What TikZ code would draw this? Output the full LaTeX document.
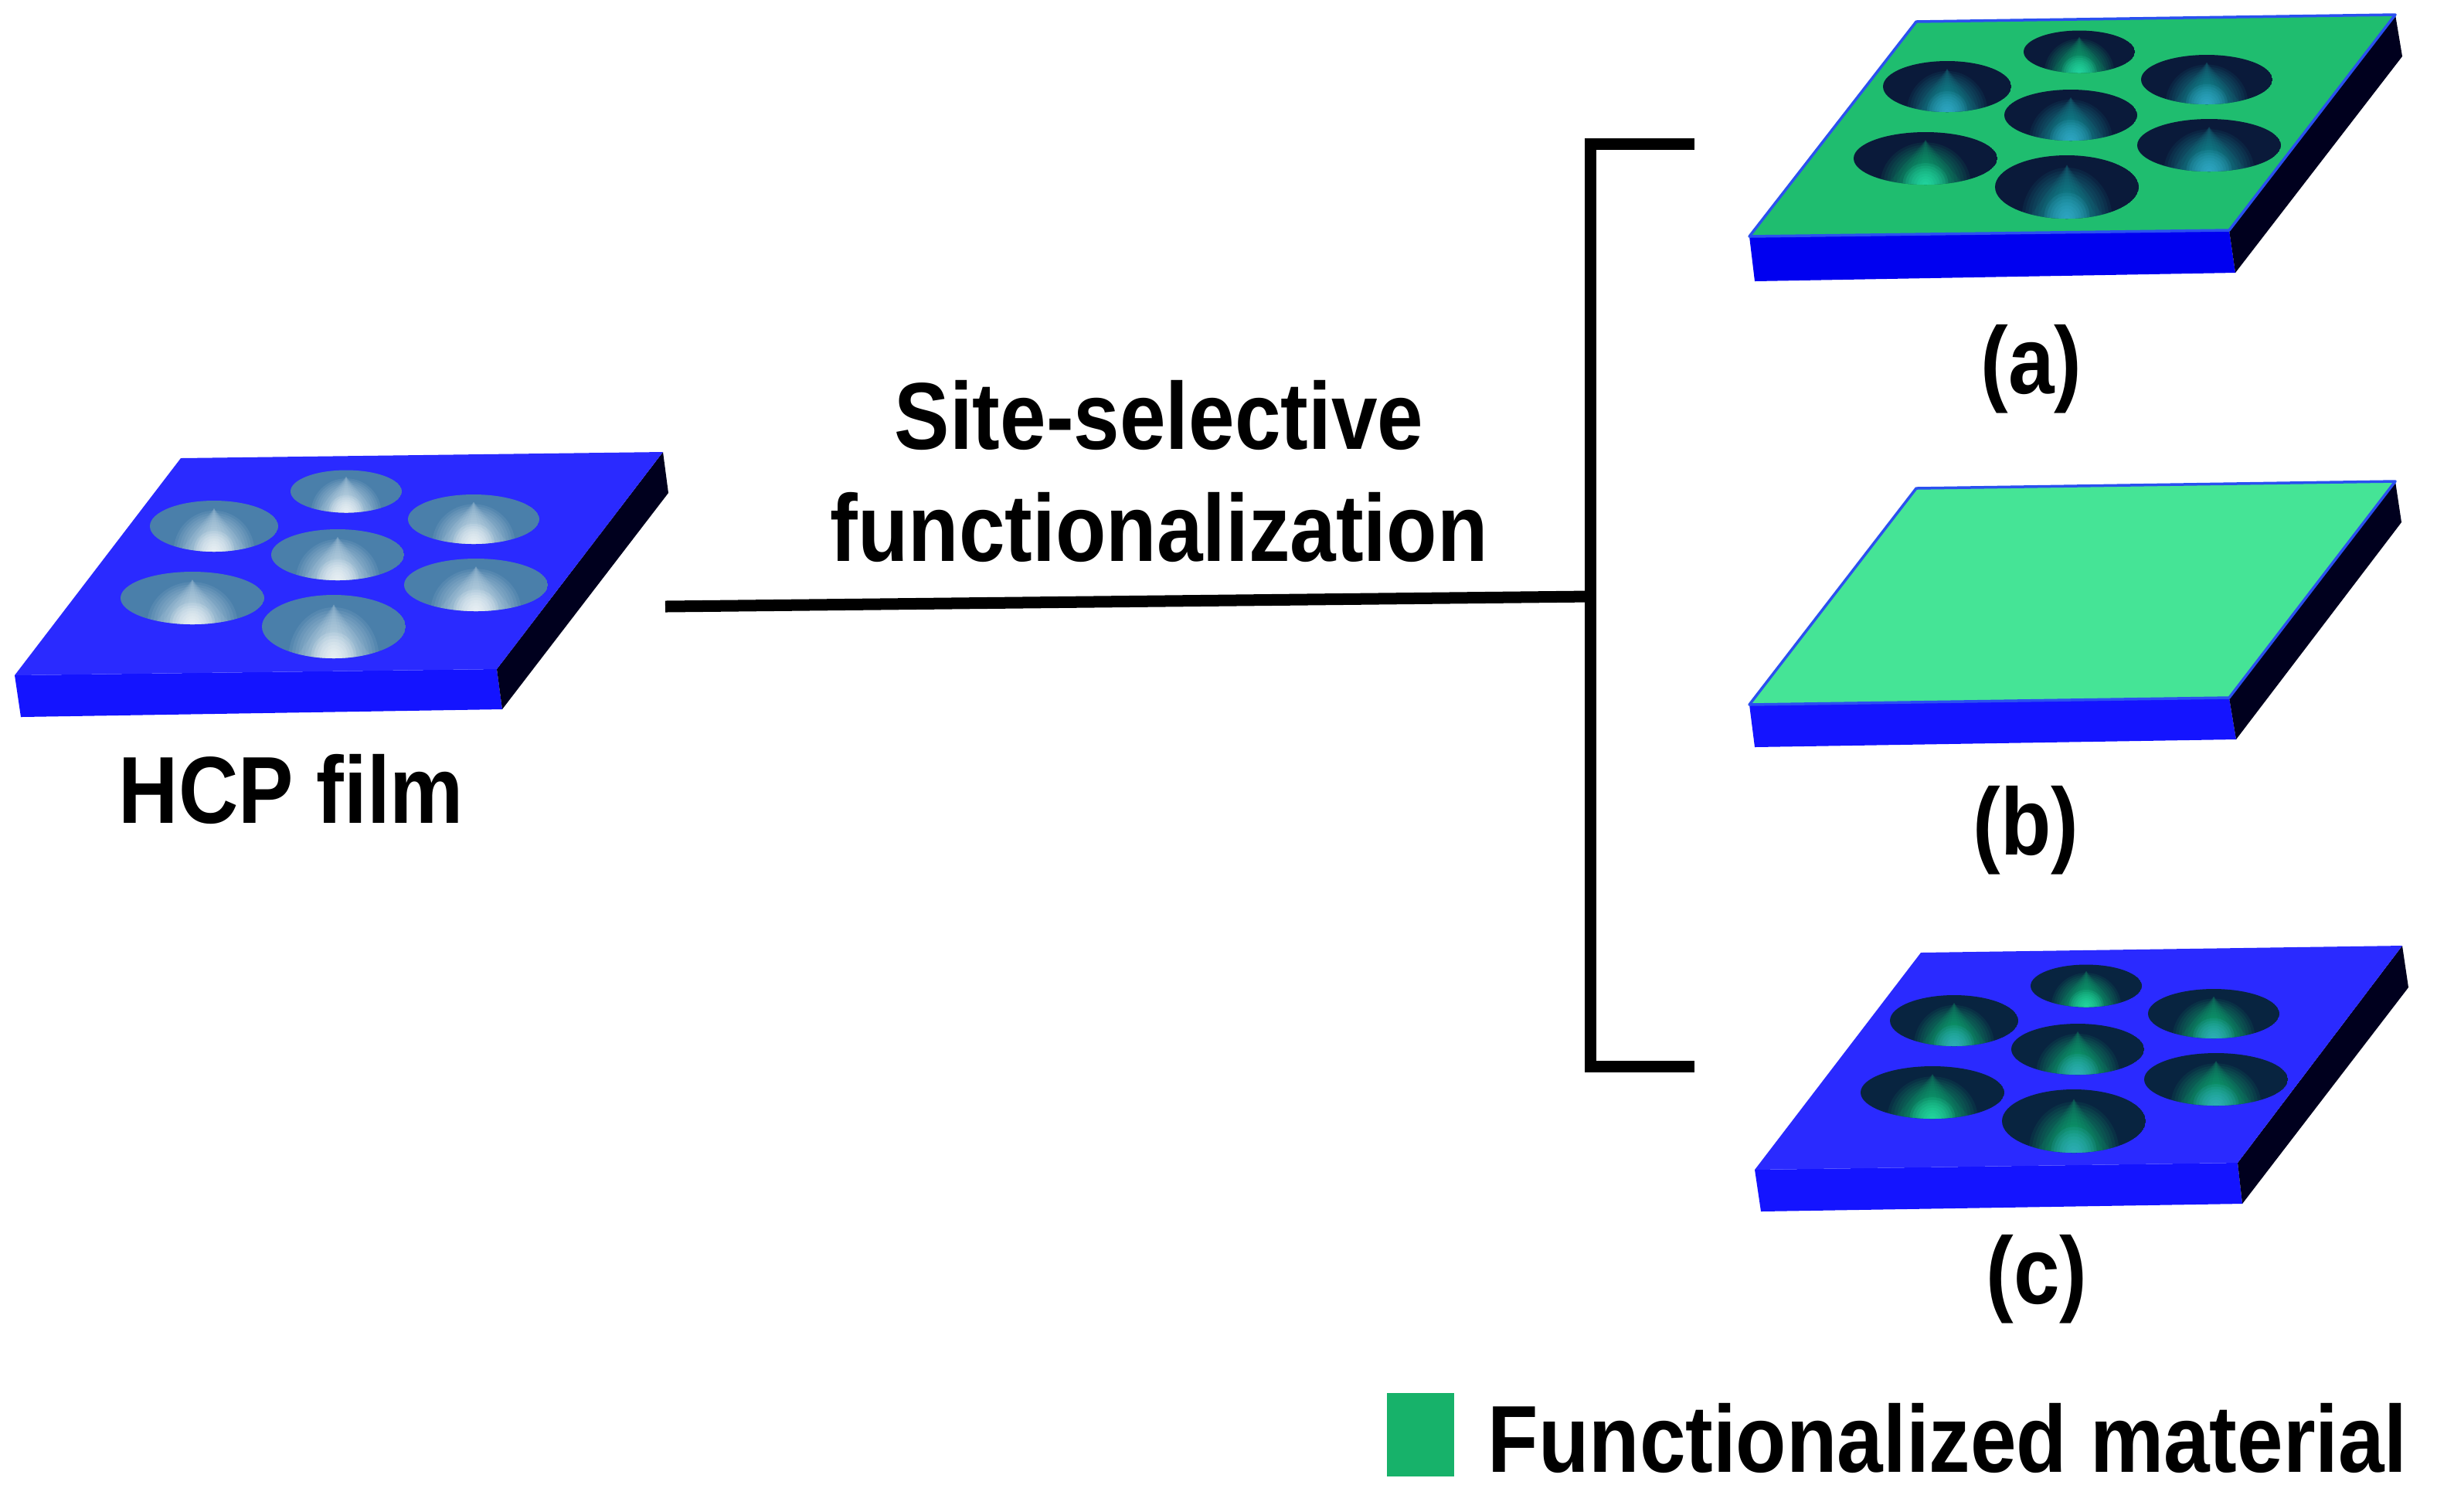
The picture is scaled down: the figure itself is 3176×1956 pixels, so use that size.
\documentclass[tikz,border=0pt]{standalone}
\usepackage{fontspec}
\setmainfont{Liberation Sans}[FakeStretch=0.87]
\definecolor{topblue}{HTML}{2A2AFF}
\definecolor{frontblue}{HTML}{1414FF}
\definecolor{frontpure}{HTML}{0000F0}
\definecolor{sidedark}{HTML}{00001E}
\definecolor{edgeblue}{HTML}{2A50F0}
\definecolor{topgreen}{HTML}{1FBD6F}
\definecolor{paleface}{HTML}{45E496}
\definecolor{legendgreen}{HTML}{17B26A}
\definecolor{holegrey}{HTML}{4A7FAA}
\definecolor{holepale}{HTML}{D4E6F0}
\definecolor{holenavy}{HTML}{0A1A3A}
\definecolor{holeink}{HTML}{082440}
\definecolor{holeteal}{HTML}{1A9AA0}
\definecolor{holegreen}{HTML}{16B878}
\definecolor{tipcyan}{HTML}{3FB8DC}
\definecolor{tipmint}{HTML}{30F0B8}
\tikzset{
  lbl/.style={font=\bfseries\fontsize{35}{41.1}\selectfont, inner sep=0pt, text=black, align=center},
  bracket/.style={line width=0.15cm, draw=black, line cap=butt, line join=miter},
  frontface/.style={fill=#1},
  sideface/.style={fill=sidedark},
  rimmed/.style={fill=#1, draw=edgeblue, line width=0.035cm, line join=round},
}
% hole: cx cy rx ry base mid tip
\newcommand\hole[7]{%
  \begin{scope}
    \clip (#1,#2) ellipse [x radius=#3, y radius=#4];
    \fill[#5] (#1,#2) ellipse [x radius=#3, y radius=#4];
    \foreach \k in {1,...,5}{
      \fill[#6, opacity=0.09]
        ({#1-(#3)*0.11*\k},{#2+(#4)*1.05}) --
        ({#1},{#2-(#4)*0.7}) --
        ({#1+(#3)*0.11*\k},{#2+(#4)*1.05}) -- cycle;
    }
    \foreach \k in {1,...,14}{
      \fill[#6, opacity=0.09] (#1,{#2+(#4)})
        ellipse [x radius={(#3)*0.045*\k}, y radius={(#4)*(0.35+0.09*\k)}];
    }
    \foreach \k in {1,...,8}{
      \fill[#7, opacity=0.13] (#1,{#2+(#4)*0.98})
        ellipse [x radius={(#3)*0.04*\k}, y radius={(#4)*0.1*\k}];
    }
  \end{scope}}
% hole set: dx dy base mid tip tip-of-top-and-lower-left mid-of-those
\newcommand\holeset[7]{%
  \begin{scope}[shift={(#1,#2)}]
    \hole{448}{636}{72}{27.5}{#3}{#7}{#6}
    \hole{277}{681}{83}{33}{#3}{#4}{#5}
    \hole{613}{672}{85}{32}{#3}{#4}{#5}
    \hole{437}{718}{86}{33}{#3}{#4}{#5}
    \hole{249}{774}{93}{34}{#3}{#7}{#6}
    \hole{616}{757}{93}{34}{#3}{#4}{#5}
    \hole{432}{811}{93}{41}{#3}{#4}{#5}
  \end{scope}}
\begin{document}
\begin{tikzpicture}[x=0.01cm,y=-0.01cm]
\useasboundingbox (0,0) rectangle (3176,1956);
\fill[white] (0,0) rectangle (3176,1956);
% HCP plate
\fill[frontface=frontblue] (19,874) -- (643,866) -- (650,918) -- (27,928) -- cycle;
\fill[sideface] (643,866) -- (858,585) -- (865,638) -- (650,918) -- cycle;
\fill[topblue] (234,593) -- (858,585) -- (643,866) -- (19,874) -- cycle;
\holeset{0}{0}{holegrey}{holepale}{white}{white}{holepale}
% plate a
\fill[frontface=frontpure] (2264,306) -- (2885,298) -- (2893,353) -- (2271,364) -- cycle;
\fill[sideface] (2885,298) -- (3100,19) -- (3109,73) -- (2893,353) -- cycle;
\path[rimmed=topgreen] (2480,28) -- (3100,19) -- (2885,298) -- (2264,306) -- cycle;
\holeset{2243}{-569}{holenavy}{holeteal}{tipcyan}{tipmint}{holegreen}
% plate b
\fill[frontface=frontblue] (2264,912) -- (2885,903) -- (2894,957) -- (2271,967) -- cycle;
\fill[sideface] (2885,903) -- (3100,623) -- (3108,676) -- (2894,957) -- cycle;
\path[rimmed=paleface] (2480,632) -- (3100,623) -- (2885,903) -- (2264,912) -- cycle;
% plate c
\fill[frontface=frontblue] (2271,1514) -- (2896,1505) -- (2902,1558) -- (2279,1568) -- cycle;
\fill[sideface] (2896,1505) -- (3109,1224) -- (3117,1278) -- (2902,1558) -- cycle;
\fill[topblue] (2486,1233) -- (3109,1224) -- (2896,1505) -- (2271,1514) -- cycle;
\holeset{2252}{640}{holeink}{holegreen}{tipcyan}{tipmint}{holegreen}
% connectors
\coordinate (src) at (861,785);
\coordinate (junction) at (2058,772);
\coordinate (bracketTop) at (2193,186);
\coordinate (bracketTopCorner) at (2058,186);
\coordinate (bracketBottomCorner) at (2058,1380);
\coordinate (bracketBottom) at (2193,1380);
\draw[bracket] (bracketTop) -- (bracketTopCorner) -- (bracketBottomCorner) -- (bracketBottom);
\draw[bracket] (src) -- (junction);
% labels
\node[lbl] (sitelabel) at (1500,610) {Site-selective\\functionalization};
\node[lbl, anchor=base] (hcplabel) at (377,1065) {HCP film};
\node[lbl, anchor=base] (alabel) at (2629,509) {(a)};
\node[lbl, anchor=base] (blabel) at (2622,1106) {(b)};
\node[lbl, anchor=base] (clabel) at (2636,1687) {(c)};
\fill[legendgreen] (1795,1803) rectangle (1882,1911);
\node[lbl, anchor=base west] (legendlabel) at (1925,1905) {Functionalized material};
\end{tikzpicture}
\end{document}
